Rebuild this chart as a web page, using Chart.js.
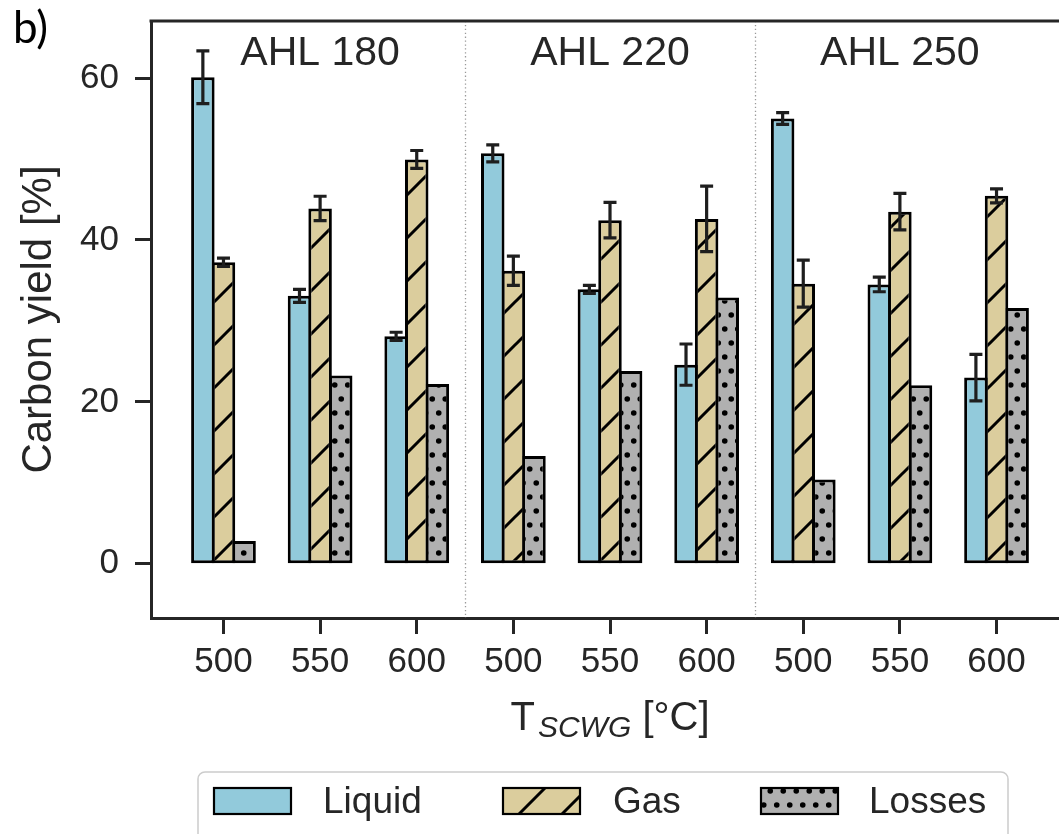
<!DOCTYPE html>
<html>
<head>
<meta charset="utf-8">
<script src="https://cdn.jsdelivr.net/npm/chart.js@4.4.1/dist/chart.umd.min.js"></script>
<style>
  html, body { margin: 0; padding: 0; background: #fff; overflow: hidden; }
  #wrap { width: 1059px; height: 834px; overflow: hidden; position: relative; }
  canvas { display: block; }
</style>
</head>
<body>
<div id="wrap"><canvas id="yieldChart" width="1070" height="834"></canvas></div>
<script>
// Carbon yield per SCWG temperature, grouped by AHL pretreatment
const tempLabels = ['500', '550', '600', '500', '550', '600', '500', '550', '600'];
const groupLabels = ['AHL 180', 'AHL 220', 'AHL 250'];
const groupCenters = [1, 4, 7];
const separators = [2.5, 5.5];
const yTicks = [0, 20, 40, 60];

const liquid    = [60.1, 33.1, 28.1, 50.7, 33.9, 24.6, 55.0, 34.5, 23.0];
const liquidErr = [3.25, 0.8, 0.5, 1.05, 0.5, 2.55, 0.72, 0.9, 2.87];
const gas       = [37.25, 43.9, 49.95, 36.2, 42.45, 42.6, 34.6, 43.5, 45.45];
const gasErr    = [0.5, 1.5, 1.1, 1.8, 2.2, 4.05, 2.9, 2.25, 0.87];
const losses    = [2.8, 23.25, 22.2, 13.3, 23.8, 32.9, 10.4, 22.05, 31.6];

const INK = '#262626';
const LIQUID_COLOR = '#92cadb';
const GAS_COLOR = '#dbcd9d';
const LOSS_COLOR = '#b0b0b0';
const SANS = "'Liberation Sans', Arial, sans-serif";

function hatchPattern() {
  const s = 43;
  const c = document.createElement('canvas');
  c.width = s; c.height = s;
  const g = c.getContext('2d');
  g.fillStyle = GAS_COLOR;
  g.fillRect(0, 0, s, s);
  g.strokeStyle = '#000';
  g.lineWidth = 3;
  g.beginPath();
  for (const k of [-s, 0, s]) {
    g.moveTo(k - 2, s + 2);
    g.lineTo(k + s + 2, -2);
  }
  g.stroke();
  return g.createPattern(c, 'repeat');
}

function dotPattern() {
  const w = 13, h = 28;
  const c = document.createElement('canvas');
  c.width = w; c.height = h;
  const g = c.getContext('2d');
  g.fillStyle = LOSS_COLOR;
  g.fillRect(0, 0, w, h);
  g.fillStyle = '#000';
  for (const [x, y] of [[3.25, 7], [9.75, 21]]) {
    g.beginPath();
    g.arc(x, y, 2.8, 0, Math.PI * 2);
    g.fill();
  }
  return g.createPattern(c, 'repeat');
}

const gasFill = hatchPattern();
const lossFill = dotPattern();

const toPoints = arr => arr.map((v, i) => ({ x: i, y: v }));

const barStyle = {
  borderColor: '#000', borderWidth: 3, borderSkipped: false,
  categoryPercentage: 0.64, barPercentage: 1.14,
};

// error bars on top of the bars
const errorBars = {
  id: 'errorBars',
  afterDatasetsDraw(chart) {
    const { ctx } = chart;
    const y = chart.scales.y;
    ctx.save();
    ctx.strokeStyle = '#1e1e1e';
    ctx.lineWidth = 3.2;
    chart.data.datasets.forEach((ds, di) => {
      if (!ds.err) return;
      chart.getDatasetMeta(di).data.forEach((bar, i) => {
        const v = ds.data[i].y, e = ds.err[i];
        const top = y.getPixelForValue(v + e), bot = y.getPixelForValue(v - e);
        ctx.beginPath();
        ctx.moveTo(bar.x, top); ctx.lineTo(bar.x, bot);
        ctx.moveTo(bar.x - 6.5, top); ctx.lineTo(bar.x + 6.5, top);
        ctx.moveTo(bar.x - 6.5, bot); ctx.lineTo(bar.x + 6.5, bot);
        ctx.stroke();
      });
    });
    ctx.restore();
  },
};

// dotted dividers, group names, top spine, x title, panel letter, legend
const decorations = {
  id: 'decorations',
  beforeDatasetsDraw(chart) {
    const { ctx, chartArea: a } = chart;
    const x = chart.scales.x;
    ctx.save();
    ctx.strokeStyle = '#9a9a9a';
    ctx.lineWidth = 1.3;
    ctx.setLineDash([1.3, 2.6]);
    separators.forEach(s => {
      const px = Math.round(x.getPixelForValue(s)) + 0.5;
      ctx.beginPath();
      ctx.moveTo(px, a.top);
      ctx.lineTo(px, a.bottom);
      ctx.stroke();
    });
    ctx.restore();
  },
  afterDraw(chart) {
    const { ctx, chartArea: a } = chart;
    const x = chart.scales.x;
    ctx.save();

    // top spine
    ctx.strokeStyle = INK;
    ctx.lineWidth = 3;
    ctx.beginPath();
    ctx.moveTo(a.left - 1.5, a.top);
    ctx.lineTo(chart.width, a.top);
    ctx.stroke();

    // group names
    ctx.fillStyle = INK;
    ctx.font = `41px ${SANS}`;
    ctx.textAlign = 'center';
    ctx.textBaseline = 'alphabetic';
    groupLabels.forEach((g, i) => ctx.fillText(g, x.getPixelForValue(groupCenters[i]), 65));

    // x axis title: T with italic subscript
    const mainFont = `40px ${SANS}`, subFont = `italic 30px ${SANS}`;
    ctx.font = mainFont;
    const wT = ctx.measureText('T').width;
    const wTail = ctx.measureText(' [°C]').width;
    ctx.font = subFont;
    const wSub = ctx.measureText('SCWG').width + 3;
    let tx = (a.left + a.right) / 2 - (wT + wSub + wTail) / 2;
    ctx.textAlign = 'left';
    ctx.font = mainFont;
    ctx.fillText('T', tx, 730);
    tx += wT + 3;
    ctx.font = subFont;
    ctx.fillText('SCWG', tx, 737);
    tx += wSub - 3;
    ctx.font = mainFont;
    ctx.fillText(' [°C]', tx, 730);

    // panel letter
    ctx.fillStyle = '#000';
    ctx.font = "44px Lato, 'Open Sans', sans-serif";
    ctx.fillText('b)', 13, 43);

    // legend
    ctx.fillStyle = 'rgba(255,255,255,0.9)';
    ctx.strokeStyle = '#cccccc';
    ctx.lineWidth = 1.5;
    ctx.beginPath();
    ctx.roundRect(198, 772, 810, 90, 7);
    ctx.fill();
    ctx.stroke();
    const entries = [
      { label: 'Liquid', fill: LIQUID_COLOR, px: 213, tx: 323 },
      { label: 'Gas', fill: gasFill, px: 502, tx: 613 },
      { label: 'Losses', fill: lossFill, px: 760, tx: 869 },
    ];
    entries.forEach(e => {
      ctx.fillStyle = e.fill;
      ctx.fillRect(e.px, 787, 79, 28);
      ctx.strokeStyle = '#000';
      ctx.lineWidth = 2.2;
      ctx.strokeRect(e.px + 1, 788, 77, 26);
      ctx.fillStyle = INK;
      ctx.font = `37px ${SANS}`;
      ctx.fillText(e.label, e.tx, 813);
    });
    ctx.restore();
  },
};

new Chart(document.getElementById('yieldChart'), {
  type: 'bar',
  data: {
    datasets: [
      { label: 'Liquid', data: toPoints(liquid), err: liquidErr, backgroundColor: LIQUID_COLOR, ...barStyle },
      { label: 'Gas', data: toPoints(gas), err: gasErr, backgroundColor: gasFill, ...barStyle },
      { label: 'Losses', data: toPoints(losses), backgroundColor: lossFill, ...barStyle },
    ],
  },
  options: {
    responsive: false,
    animation: false,
    layout: { padding: { top: 21, right: 1, left: 0, bottom: 0 } },
    plugins: { legend: { display: false }, tooltip: { enabled: false } },
    scales: {
      x: {
        type: 'linear', min: -0.75, max: 8.75, offset: false,
        afterBuildTicks: s => { s.ticks = tempLabels.map((_, i) => ({ value: i })); },
        afterFit: s => { s.height = 216; s.paddingLeft = 0; s.paddingRight = 0; },
        grid: { display: true, offset: false, drawOnChartArea: false, drawTicks: true, tickLength: 16, tickWidth: 3, tickColor: INK },
        border: { display: true, color: INK, width: 3 },
        ticks: {
          autoSkip: false, maxRotation: 0, padding: 7, color: INK,
          font: { family: SANS, size: 35 },
          callback: v => tempLabels[v],
        },
      },
      y: {
        type: 'linear', min: -6.7, max: 67.05,
        afterBuildTicks: s => { s.ticks = yTicks.map(v => ({ value: v })); },
        afterFit: s => { s.width = 151; s.paddingTop = 0; s.paddingBottom = 0; },
        grid: { display: true, drawOnChartArea: false, drawTicks: true, tickLength: 16, tickWidth: 3, tickColor: INK },
        border: { display: true, color: INK, width: 3 },
        ticks: { padding: 16, color: INK, font: { family: SANS, size: 35 } },
        title: {
          display: true, text: 'Carbon yield [%]', color: INK,
          font: { family: SANS, size: 42 }, padding: { top: 14, bottom: 0 },
        },
      },
    },
  },
  plugins: [errorBars, decorations],
});
</script>
</body>
</html>
